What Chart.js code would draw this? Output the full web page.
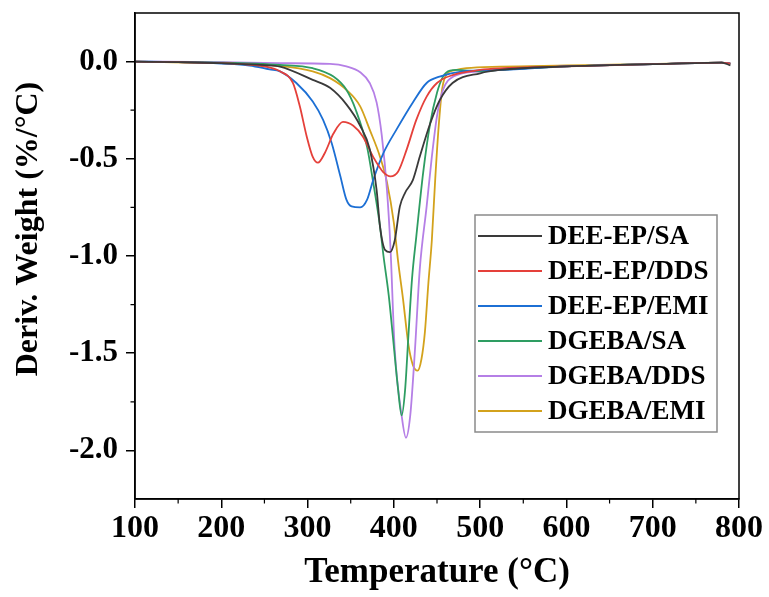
<!DOCTYPE html>
<html>
<head>
<meta charset="utf-8">
<script src="https://cdn.jsdelivr.net/npm/chart.js@4/dist/chart.umd.min.js"></script>
<style>
html,body{margin:0;padding:0;background:#fff;}
#wrap{width:769px;height:597px;position:relative;}
</style>
</head>
<body>
<div id="wrap"><canvas id="c" width="769" height="597"></canvas></div>
<script>
// ---- data ----
const seriesNames = ["DEE-EP/SA", "DEE-EP/DDS", "DEE-EP/EMI", "DGEBA/SA", "DGEBA/DDS", "DGEBA/EMI"];

const deeSaT = [100,150,200,250,268,306,326,345,361,372,380,384,390,395.5,401,407,413,422,430,442,453,468,500,523,600,700,780,790];
const deeSaY = [0,-0.003,-0.008,-0.018,-0.026,-0.094,-0.135,-0.22,-0.33,-0.45,-0.66,-0.85,-0.97,-0.98,-0.92,-0.745,-0.675,-0.61,-0.49,-0.32,-0.2,-0.11,-0.06,-0.043,-0.025,-0.013,-0.005,-0.02];

const deeDdsT = [100,150,200,230,250,268,283,291,299,306,312,320,330,341,353,364,376,388,396,405,415,426,438,450,469,500,523,600,700,780,790];
const deeDdsY = [0,-0.003,-0.008,-0.015,-0.025,-0.05,-0.11,-0.23,-0.385,-0.49,-0.52,-0.47,-0.37,-0.31,-0.33,-0.385,-0.49,-0.57,-0.59,-0.565,-0.45,-0.30,-0.18,-0.11,-0.068,-0.043,-0.035,-0.025,-0.013,-0.005,-0.01];

const deeEmiT = [100,150,200,233,256,268,287,306,318,328,338,345,351,361,369,376,388,403,422,438,453,480,523,600,700,780,790];
const deeEmiY = [0,-0.003,-0.01,-0.02,-0.04,-0.05,-0.11,-0.205,-0.30,-0.42,-0.59,-0.71,-0.745,-0.75,-0.71,-0.61,-0.47,-0.35,-0.21,-0.11,-0.077,-0.05,-0.043,-0.025,-0.013,-0.005,-0.01];

const dgSaT = [100,200,268,306,330,345,356,369,376,384,388,394,399,405,409,413,417,421,426,434,442,450,457,465,473,500,523,600,700,780,790];
const dgSaY = [0,-0.005,-0.017,-0.034,-0.077,-0.145,-0.25,-0.44,-0.62,-0.85,-1.0,-1.2,-1.42,-1.69,-1.82,-1.69,-1.4,-1.12,-0.9,-0.57,-0.32,-0.16,-0.077,-0.046,-0.043,-0.05,-0.043,-0.025,-0.013,-0.005,-0.01];

const dgDdsT = [100,200,268,326,345,361,372,380,386,392,396,401,409,414,419,424.5,430,438,444,450,457,469,500,523,600,700,780,790];
const dgDdsY = [0,-0.003,-0.008,-0.012,-0.025,-0.055,-0.11,-0.21,-0.38,-0.66,-0.95,-1.48,-1.82,-1.935,-1.82,-1.48,-1.07,-0.745,-0.49,-0.28,-0.145,-0.077,-0.05,-0.043,-0.025,-0.013,-0.005,-0.01];

const dgEmiT = [100,200,268,306,326,345,361,372,384,392,400,405,410.6,417,422,427.5,432,436,440,444,448,452,456,462,470,484,523,600,700,780,790];
const dgEmiY = [0,-0.008,-0.022,-0.05,-0.085,-0.145,-0.23,-0.35,-0.49,-0.62,-0.83,-1.03,-1.22,-1.46,-1.56,-1.59,-1.53,-1.39,-1.14,-0.92,-0.6,-0.33,-0.14,-0.06,-0.045,-0.034,-0.026,-0.02,-0.012,-0.005,-0.01];

const seriesColors = ["#3a3a3a", "#e5403a", "#1c6fd4", "#2e9d62", "#b57fe6", "#d3a21c"];

const xTicks = [100,200,300,400,500,600,700,800];
const xMinorTicks = [150,250,350,450,550,650,750];
const yTicks = [0,-0.5,-1.0,-1.5,-2.0];
const yMinorTicks = [-0.25,-0.75,-1.25,-1.75];

const xTitle = "Temperature (°C)";
const yTitle = "Deriv. Weight (%/°C)";

// ---- build datasets ----
const allT = [deeSaT, deeDdsT, deeEmiT, dgSaT, dgDdsT, dgEmiT];
const allY = [deeSaY, deeDdsY, deeEmiY, dgSaY, dgDdsY, dgEmiY];
const datasets = seriesNames.map((name, i) => ({
  label: name,
  data: allT[i].map((t, k) => ({x: t, y: allY[i][k]})),
  borderColor: seriesColors[i],
  backgroundColor: seriesColors[i],
  borderWidth: 1.8,
  pointRadius: 0,
  cubicInterpolationMode: 'monotone',
  fill: false
}));

const FONT = "'Liberation Serif', 'Times New Roman', serif";

const framePlugin = {
  id: 'frame',
  afterDraw(chart) {
    const {ctx, chartArea: a} = chart;
    const xs = chart.scales.x, ys = chart.scales.y;
    ctx.save();
    ctx.strokeStyle = '#000';
    ctx.lineWidth = 1.5;
    ctx.strokeRect(a.left, a.top, a.right - a.left, a.bottom - a.top);
    // minor ticks
    ctx.lineWidth = 1.2;
    ctx.beginPath();
    xMinorTicks.forEach(v => {
      const px = xs.getPixelForValue(v);
      ctx.moveTo(px, a.bottom);
      ctx.lineTo(px, a.bottom + 4.5);
    });
    yMinorTicks.forEach(v => {
      const py = ys.getPixelForValue(v);
      ctx.moveTo(a.left, py);
      ctx.lineTo(a.left - 4.5, py);
    });
    ctx.stroke();
    // y title
    ctx.fillStyle = '#000';
    ctx.font = "bold 32px " + FONT;
    ctx.textAlign = 'center';
    ctx.textBaseline = 'middle';
    ctx.translate(29, 229);
    ctx.rotate(-Math.PI / 2);
    ctx.fillText(yTitle, 0, 0);
    ctx.restore();

    // legend
    ctx.save();
    const lx = 475, ly = 215, lw = 242, lh = 217;
    ctx.fillStyle = '#fff';
    ctx.fillRect(lx, ly, lw, lh);
    ctx.strokeStyle = '#8a8a8a';
    ctx.lineWidth = 1.5;
    ctx.strokeRect(lx, ly, lw, lh);
    ctx.font = "bold 27px " + FONT;
    ctx.textAlign = 'left';
    ctx.textBaseline = 'middle';
    chart.data.datasets.forEach((ds, i) => {
      const cy = 236 + i * 35;
      ctx.strokeStyle = ds.borderColor;
      ctx.lineWidth = 2;
      ctx.beginPath();
      ctx.moveTo(478, cy);
      ctx.lineTo(542, cy);
      ctx.stroke();
      ctx.fillStyle = '#000';
      ctx.fillText(ds.label, 548, cy + 1);
    });
    ctx.restore();
  }
};

new Chart(document.getElementById('c'), {
  type: 'line',
  data: {datasets},
  plugins: [framePlugin],
  options: {
    responsive: false,
    animation: false,
    layout: {padding: {left: 0, right: 30, top: 13, bottom: 0}},
    plugins: {legend: {display: false}, tooltip: {enabled: false}},
    scales: {
      x: {
        type: 'linear',
        min: 100, max: 800,
        afterFit(s) { s.height = 98; s.paddingLeft = 0; s.paddingRight = 0; },
        afterBuildTicks(s) { s.ticks = xTicks.map(v => ({value: v})); },
        grid: {drawOnChartArea: false, tickLength: 9, color: '#000', lineWidth: 1.5},
        border: {color: '#000', width: 1.5},
        ticks: {color: '#000', font: {family: FONT, size: 32, weight: 'bold'}, padding: 2, maxRotation: 0, autoSkip: false},
        title: {display: true, text: xTitle, color: '#000', font: {family: FONT, size: 35, weight: 'bold'}, padding: {top: 0, bottom: 3}}
      },
      y: {
        type: 'linear',
        min: -2.25, max: 0.25,
        afterFit(s) { s.width = 135; s.paddingTop = 0; s.paddingBottom = 0; },
        afterBuildTicks(s) { s.ticks = yTicks.map(v => ({value: v})); },
        grid: {drawOnChartArea: false, tickLength: 9, color: '#000', lineWidth: 1.5},
        border: {color: '#000', width: 1.5},
        ticks: {color: '#000', font: {family: FONT, size: 31, weight: 'bold'}, padding: 8, autoSkip: false,
                callback: v => Number(v).toFixed(1)}
      }
    }
  }
});
</script>
</body>
</html>
